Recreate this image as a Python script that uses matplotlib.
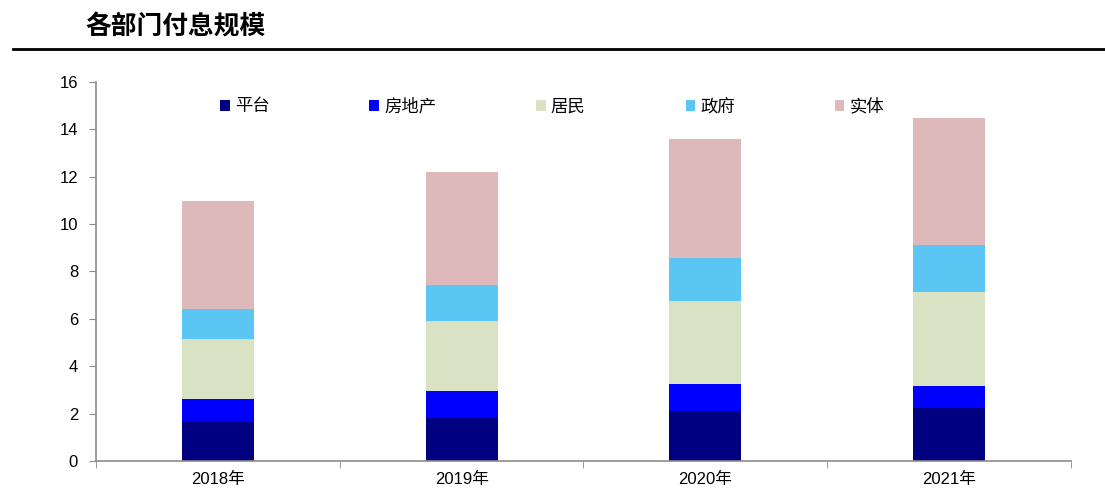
import matplotlib.pyplot as plt
import numpy as np

plt.rcParams["font.family"] = ["Liberation Sans", "Noto Sans CJK SC"]

years = ["2018年", "2019年", "2020年", "2021年"]
sectors = ["平台", "房地产", "居民", "政府", "实体"]
platform = [1.63, 1.83, 2.11, 2.22]
real_estate = [0.99, 1.12, 1.14, 0.96]
households = [2.52, 2.97, 3.50, 3.94]
government = [1.26, 1.51, 1.81, 2.01]
corporate = [4.59, 4.77, 5.02, 5.34]

colors = ["#000080", "#0000FF", "#D9E2C3", "#5BC6F3", "#DEB9B9"]
AXIS_GRAY = "#8c8c8c"

fig = plt.figure(figsize=(11.05, 4.97), dpi=100)
ax = fig.add_axes([0.087, 0.0724, 0.882, 0.763])

x = np.arange(len(years))
bottom = np.zeros(len(years))
for name, vals, c in zip(sectors, [platform, real_estate, households, government, corporate], colors):
    ax.bar(x, vals, width=0.295, bottom=bottom, color=c, label=name, linewidth=0)
    bottom += np.array(vals)

ax.set_xlim(-0.5, 3.5)
ax.set_ylim(0, 16)
ax.set_yticks(range(0, 17, 2))
ax.set_xticks(x)
ax.set_xticklabels(years, fontsize=12)
ax.set_xticks(np.arange(-0.5, 3.6, 1), minor=True)
ax.tick_params(axis="x", which="major", length=0, pad=8)
ax.tick_params(axis="x", which="minor", length=5, color=AXIS_GRAY)
ax.tick_params(axis="y", length=5, color=AXIS_GRAY, labelsize=12, pad=8)
for s in ["top", "right"]:
    ax.spines[s].set_visible(False)
for s in ["left", "bottom"]:
    ax.spines[s].set_color(AXIS_GRAY)
    ax.spines[s].set_linewidth(1.2)

ax.legend(loc="upper center", bbox_to_anchor=(0.468, 1.0), ncol=5, frameon=False,
          prop={"family": "Noto Sans CJK SC", "size": 12.5},
          handlelength=0.55, handleheight=0.55, handletextpad=0.3, columnspacing=5.75)

# header with rule underneath
fig.text(0.077, 0.945, "各部门付息规模", fontsize=18.5, fontweight="bold",
         family="Noto Sans CJK SC", ha="left", va="center")
fig.add_artist(plt.Line2D([0.012, 1.0], [0.901, 0.901], color="black", linewidth=2))

fig.savefig("out.png", dpi=100, facecolor="white")
